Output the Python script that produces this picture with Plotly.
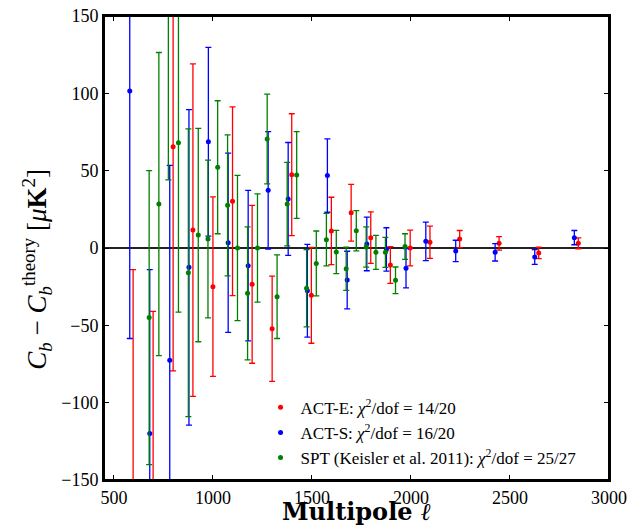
import plotly.graph_objs as go

# ACT-E (red)
ell_e = [597, 698, 799, 899, 1000, 1099, 1198, 1299, 1398, 1497, 1598, 1698, 1797, 1896, 1996, 2096, 2246, 2445, 2645, 2845]
y_e = [-195, -190, 65.5, 11.6, -25, 30.2, -23.5, -52.2, 47.4, -30.6, 11, 22.8, 6.7, -11, 0, 3.7, 5.8, 3, -3.2, 3]
err_e = [181, 149, 145, 107.5, 58, 61, 51, 34, 39.4, 31, 21.8, 18.3, 16.6, 11.9, 11.6, 10.4, 5.5, 4.4, 3.7, 3.5]

# ACT-S (blue)
ell_s = [580, 681, 782, 879, 977, 1077, 1178, 1279, 1380, 1477, 1578, 1678, 1777, 1876, 1975, 2075, 2226, 2425, 2625, 2825]
y_s = [101.5, -120, -72.6, -12.5, 68.7, 3.4, -11.4, 37.3, 31.7, -27.6, 46.8, -20.7, 2.6, -0.9, -13.1, 4.3, -1.9, -2.8, -5.8, 6.7]
err_s = [160, 106, 126, 102, 61, 58, 48.7, 38, 36.5, 30, 23.7, 18.6, 17.3, 14, 12.7, 12.4, 6.9, 5.6, 4.8, 4.6]

# SPT (green)
ell_spt = [678, 727, 775, 826, 876, 926, 975, 1024, 1074, 1124, 1175, 1225, 1274, 1324, 1375, 1423, 1473, 1522, 1573, 1623, 1673, 1724, 1774, 1823, 1871, 1922, 1970]
y_spt = [-45, 28.4, 155, 68, -16, 8.4, 5.8, 52.2, 27.6, 0, -29.3, 0, 70.5, -31.5, 28.4, 47.2, -26, -10, 5.4, -2.6, -13.4, 11.2, 0.6, -2.8, -2.8, -20.9, 0.9]
err_spt = [95, 98, 111, 109.5, 93, 69, 51, 43, 45.6, 47, 43, 35, 29, 27, 27, 28, 25, 21, 17, 14, 14, 13, 13, 11, 9.7, 8.6, 8.3]

names = ['ACT-E: <i>χ</i><sup>2</sup>/dof = 14/20',
         'ACT-S: <i>χ</i><sup>2</sup>/dof = 16/20',
         'SPT (Keisler et al. 2011): <i>χ</i><sup>2</sup>/dof = 25/27']

def series(x, y, err, color, name):
    return go.Scatter(
        x=x, y=y, mode='markers', name=name,
        marker=dict(color=color, size=5),
        error_y=dict(type='data', array=err, visible=True,
                     color=color, thickness=1.3, width=3),
    )

data = [
    series(ell_e, y_e, err_e, '#ff0000', names[0]),
    series(ell_s, y_s, err_s, '#0000ff', names[1]),
    series(ell_spt, y_spt, err_spt, '#008000', names[2]),
]

axis_style = dict(showline=True, linecolor='black', linewidth=2, mirror='ticks',
                  ticks='inside', ticklen=5, tickcolor='black', showgrid=False,
                  automargin=False, ticklabeloverflow='allow',
                  tickfont=dict(family='Liberation Serif', size=18, color='black'))

# the page body has an 8px margin, so the figure is drawn 8px smaller
layout = go.Layout(
    template='none',
    width=631, height=521,
    margin=dict(l=96, r=30, t=8, b=49),
    paper_bgcolor='white', plot_bgcolor='white',
    font=dict(family='Liberation Serif', color='black'),
    showlegend=True,
    legend=dict(x=0.31, y=0.009, xanchor='left', yanchor='bottom',
                bgcolor='rgba(0,0,0,0)', traceorder='normal',
                font=dict(family='Liberation Serif', size=17, color='black')),
    xaxis=dict(range=[450, 3000], tickvals=[500, 1000, 1500, 2000, 2500, 3000],
               zeroline=False, **axis_style),
    yaxis=dict(range=[-150, 150], tickvals=[-150, -100, -50, 0, 50, 100, 150],
               zeroline=True, zerolinecolor='#222222', zerolinewidth=1.5,
               **axis_style),
    shapes=[dict(type='rect', xref='paper', yref='paper', x0=0, x1=1, y0=0, y1=1,
                 line=dict(color='black', width=2))],
    annotations=[
        dict(text='<b>Multipole <i>ℓ</i></b>', xref='paper', yref='paper',
             x=0.5, y=-0.033, xanchor='center', yanchor='top', showarrow=False,
             font=dict(family='DejaVu Serif', size=24)),
        dict(text='<i>C<sub>b</sub></i> − <i>C<sub>b</sub></i><sup>theory</sup> [<i>μ</i><b>K</b><sup>2</sup>]',
             xref='paper', yref='paper', x=-0.133, y=0.455, textangle=-90,
             xanchor='center', yanchor='middle', showarrow=False,
             font=dict(family='Liberation Serif', size=27)),
    ],
)

fig = go.Figure(data=data, layout=layout)
fig.write_html('out.html')
